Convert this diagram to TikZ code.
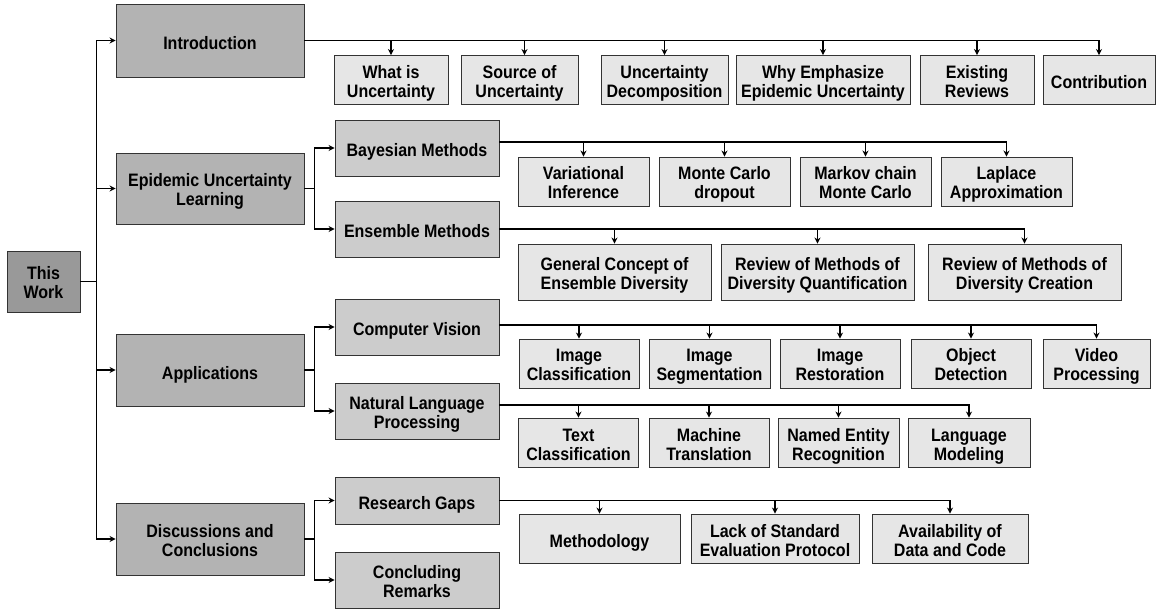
\documentclass[tikz,border=0pt]{standalone}
\usepackage{fontspec}
\setmainfont{Liberation Sans}[FakeStretch=0.89]
\usetikzlibrary{arrows.meta}
\definecolor{fillA}{HTML}{999999}
\definecolor{fillB}{HTML}{B3B3B3}
\definecolor{fillC}{HTML}{CCCCCC}
\definecolor{fillD}{HTML}{E6E6E6}
\newcommand\boxrise{39pt}
\begin{document}
\begin{tikzpicture}[x=1pt, y=-1pt, line width=1.2pt, >={Stealth[length=6pt,width=6pt]},
  box/.style={draw=black!80, line width=0.9pt, inner sep=0pt, align=center,
    font=\fontsize{18}{19}\selectfont\bfseries,
    execute at begin node={\vrule height \boxrise depth 4pt width 0pt}},
  oneline/.code={\renewcommand\boxrise{22pt}},
  workbox/.style={box, fill=fillA, minimum width=73pt, minimum height=61pt},
  mainbox/.style={box, fill=fillB, minimum width=188pt},
  subbox/.style={box, fill=fillC, minimum width=164pt},
  leafbox/.style={box, fill=fillD, minimum height=49pt}]
\useasboundingbox (0,0) rectangle (1156,609);
\node[workbox] (P_0_0) at (43.5,281.5) {This\\Work};
\node[mainbox, oneline, minimum height=73pt] (P_1_0) at (210,40.5) {Introduction};
\draw[->] (P_0_0.east) -- ++(16,0) |- (P_1_0.west);
\node[mainbox, minimum height=71pt] (P_1_1) at (210,188.5) {Epidemic Uncertainty\\Learning};
\draw[->] (P_0_0.east) -- ++(16,0) |- (P_1_1.west);
\node[mainbox, oneline, minimum height=72pt] (P_1_2) at (210,370) {Applications};
\draw[->] (P_0_0.east) -- ++(16,0) |- (P_1_2.west);
\node[mainbox, minimum height=72pt] (P_1_3) at (210,539) {Discussions and\\Conclusions};
\draw[->] (P_0_0.east) -- ++(16,0) |- (P_1_3.west);
\node[leafbox, minimum width=114pt] (P_2_0) at (391,80) {What is\\Uncertainty};
\draw[->] (P_1_0.east) -| (P_2_0.north);
\node[leafbox, minimum width=117pt] (P_2_1) at (519.5,80) {Source of\\Uncertainty};
\draw[->] (P_1_0.east) -| ([xshift=5pt]P_2_1.north);
\node[leafbox, minimum width=127pt] (P_2_2) at (664.5,80) {Uncertainty\\Decomposition};
\draw[->] (P_1_0.east) -| (P_2_2.north);
\node[leafbox, minimum width=174pt] (P_2_3) at (823,80) {Why Emphasize\\Epidemic Uncertainty};
\draw[->] (P_1_0.east) -| (P_2_3.north);
\node[leafbox, minimum width=114pt] (P_2_4) at (977,80) {Existing\\Reviews};
\draw[->] (P_1_0.east) -| (P_2_4.north);
\node[leafbox, oneline, minimum width=112pt] (P_2_5) at (1099,80) {Contribution};
\draw[->] (P_1_0.east) -| (P_2_5.north);
\node[subbox, oneline, minimum height=56pt] (P_3_0) at (417,148) {Bayesian Methods};
\draw[->] (P_1_1.east) -- ++(10,0) |- (P_3_0.west);
\node[subbox, oneline, minimum height=56pt] (P_3_1) at (417,229) {Ensemble Methods};
\draw[->] (P_1_1.east) -- ++(10,0) |- (P_3_1.west);
\node[leafbox, minimum width=131pt] (P_4_0) at (583.5,181.5) {Variational\\Inference};
\draw[->] ([yshift=6pt]P_3_0.east) -| (P_4_0.north);
\node[leafbox, minimum width=131pt] (P_4_1) at (724.5,181.5) {Monte Carlo\\dropout};
\draw[->] ([yshift=6pt]P_3_0.east) -| (P_4_1.north);
\node[leafbox, minimum width=131pt] (P_4_2) at (865.5,181.5) {Markov chain\\Monte Carlo};
\draw[->] ([yshift=6pt]P_3_0.east) -| (P_4_2.north);
\node[leafbox, minimum width=131pt] (P_4_3) at (1006.5,181.5) {Laplace\\Approximation};
\draw[->] ([yshift=6pt]P_3_0.east) -| (P_4_3.north);
\node[leafbox, minimum width=193pt, minimum height=56pt] (P_5_0) at (614.5,272) {General Concept of\\Ensemble Diversity};
\draw[->] (P_3_1.east) -| (P_5_0.north);
\node[leafbox, minimum width=193pt, minimum height=56pt] (P_5_1) at (817.5,272) {Review of Methods of\\Diversity Quantification};
\draw[->] (P_3_1.east) -| (P_5_1.north);
\node[leafbox, minimum width=193pt, minimum height=56pt] (P_5_2) at (1024.5,272) {Review of Methods of\\Diversity Creation};
\draw[->] (P_3_1.east) -| (P_5_2.north);
\node[subbox, oneline, minimum height=56pt] (P_3_2) at (417,327) {Computer Vision};
\draw[->] (P_1_2.east) -- ++(10,0) |- (P_3_2.west);
\node[subbox, minimum height=56pt] (P_3_3) at (417,411) {Natural Language\\Processing};
\draw[->] (P_1_2.east) -- ++(10,0) |- (P_3_3.west);
\node[leafbox, minimum width=120pt] (P_6_0) at (579,363.5) {Image\\Classification};
\draw[->] ([yshift=2pt]P_3_2.east) -| (P_6_0.north);
\node[leafbox, minimum width=121pt] (P_6_1) at (709.5,363.5) {Image\\Segmentation};
\draw[->] ([yshift=2pt]P_3_2.east) -| (P_6_1.north);
\node[leafbox, minimum width=120pt] (P_6_2) at (840,363.5) {Image\\Restoration};
\draw[->] ([yshift=2pt]P_3_2.east) -| (P_6_2.north);
\node[leafbox, minimum width=120pt] (P_6_3) at (971,363.5) {Object\\Detection};
\draw[->] ([yshift=2pt]P_3_2.east) -| (P_6_3.north);
\node[leafbox, minimum width=107pt] (P_6_4) at (1096.5,363.5) {Video\\Processing};
\draw[->] ([yshift=2pt]P_3_2.east) -| (P_6_4.north);
\node[leafbox, minimum width=120pt] (P_7_0) at (578.5,442.5) {Text\\Classification};
\draw[->] ([yshift=6pt]P_3_3.east) -| (P_7_0.north);
\node[leafbox, minimum width=120pt] (P_7_1) at (709,442.5) {Machine\\Translation};
\draw[->] ([yshift=6pt]P_3_3.east) -| (P_7_1.north);
\node[leafbox, minimum width=121pt] (P_7_2) at (838.5,442.5) {Named Entity\\Recognition};
\draw[->] ([yshift=6pt]P_3_3.east) -| (P_7_2.north);
\node[leafbox, minimum width=122pt] (P_7_3) at (969,442.5) {Language\\Modeling};
\draw[->] ([yshift=6pt]P_3_3.east) -| (P_7_3.north);
\node[subbox, oneline, minimum height=47pt] (P_3_4) at (417,500.5) {Research Gaps};
\draw[->] (P_1_3.east) -- ++(10,0) |- (P_3_4.west);
\node[subbox, minimum height=56pt] (P_3_5) at (417,580) {Concluding\\Remarks};
\draw[->] (P_1_3.east) -- ++(10,0) |- (P_3_5.west);
\node[leafbox, oneline, minimum width=161pt] (P_8_0) at (599.5,538.5) {Methodology};
\draw[->] (P_3_4.east) -| (P_8_0.north);
\node[leafbox, minimum width=168pt] (P_8_1) at (775,538.5) {Lack of Standard\\Evaluation Protocol};
\draw[->] (P_3_4.east) -| (P_8_1.north);
\node[leafbox, minimum width=156pt] (P_8_2) at (950,538.5) {Availability of\\Data and Code};
\draw[->] (P_3_4.east) -| (P_8_2.north);
\end{tikzpicture}
\end{document}
